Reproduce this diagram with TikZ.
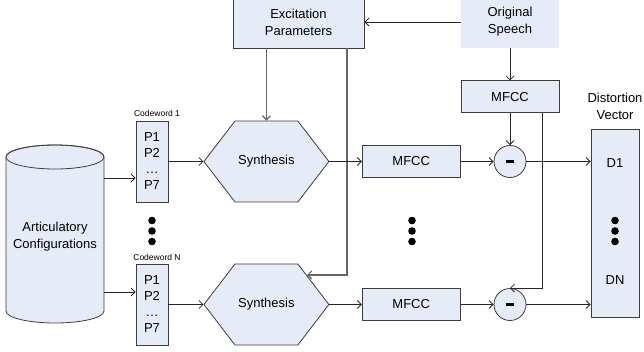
\documentclass[tikz,border=0pt]{standalone}
\usepackage{fontspec}
\setmainfont{Liberation Sans}
\usetikzlibrary{arrows.meta,positioning,shapes.symbols}

\definecolor{boxfill}{RGB}{230,236,247}
\definecolor{edgegray}{RGB}{60,60,60}

\begin{document}
\begin{tikzpicture}[x=1pt, y=-1pt, line width=0.8pt,
	font=\fontsize{13}{17}\selectfont,
	box/.style={rectangle,draw=edgegray,fill=boxfill,inner sep=0pt,align=center},
	mfcc/.style={box,minimum width=98pt,minimum height=32pt},
	code/.style={box,minimum width=32pt,minimum height=81pt,font=\fontsize{13}{16}\selectfont},
	synth/.style={signal,signal to=east and west,signal pointer angle=105,draw=edgegray,fill=boxfill,minimum width=125pt,minimum height=81pt,inner sep=0pt},
	diff/.style={circle,draw=edgegray,fill=boxfill,minimum size=32pt,inner sep=0pt},
	small/.style={font=\fontsize{8.5}{10}\selectfont},
	arr/.style={-{Straight Barb[length=4pt,width=8pt]},draw=black!85},
	feed/.style={arr,draw=black!60,line width=1.2pt}]
	
	\useasboundingbox (0,0) rectangle (644,351);
	
	% top row
	\node[box,minimum width=131pt,minimum height=52pt] (exc) at (298.5,22) {Excitation\\Parameters};
	\node[box,draw=none,minimum width=98pt,minimum height=52pt] (orig) at (510,22) {Original\\Speech};
	\node[mfcc,below=32pt of orig] (mfcc0) {MFCC};
	
	% database
	\filldraw[draw=edgegray,fill=boxfill] (6,157) -- (6,311)
	arc[start angle=180,end angle=360,x radius=49pt,y radius=12pt] -- (104,157)
	arc[start angle=0,end angle=180,x radius=49pt,y radius=12pt] -- cycle;
	\draw[edgegray] (55,157) ellipse[x radius=49pt,y radius=12pt];
	\node[minimum width=98pt,minimum height=166pt,inner sep=0pt,align=center] (db) at (55,237) {Articulatory\\Configurations};
	
	% codeword 1
	\node[code] (cw1) at (152,161.5) {P1\\P2\\\ldots\\P7};
	\node[synth,right=35pt of cw1] (syn1) {Synthesis};
	\node[diff] (dif1) at (mfcc0 |- cw1) {\rule{8pt}{3pt}};
	\node[mfcc,left=33pt of dif1] (mfcc1) {MFCC};
	\node[small] (lab1) at (157,113) {Codeword 1};
	
	% codeword N
	\node[code] (cwN) at (152,304.5) {P1\\P2\\\ldots\\P7};
	\node[synth,right=35pt of cwN] (syn2) {Synthesis};
	\node[diff] (dif2) at (mfcc0 |- cwN) {\rule{8pt}{3pt}};
	\node[mfcc,left=33pt of dif2] (mfcc2) {MFCC};
	\node[small] (labN) at (157,257) {Codeword N};
	\coordinate (s2in) at (307,275);
	
	% distortion vector
	\node[box,minimum width=48pt,minimum height=188pt] (dv) at (615,223) {};
	\node[align=center] (dvlab) at (615,106) {Distortion\\Vector};
	\node (d1) at (615,163) {D1};
	\node (dn) at (615,280) {DN};
	
	\foreach \x in {152,412,615}
	\foreach \d in {-10.5,0,10.5}
	\fill (\x,231+\d) circle[radius=3.8pt];
	
	\draw[arr] (orig.west) -- (exc.east);
	\draw[feed] (syn1.north |- exc.south) -- (syn1.north);
	\draw[feed] ([xshift=48.5pt]exc.south) |- (s2in);
	\draw[arr] (orig.south) -- (mfcc0.north);
	\draw[arr] (mfcc0.south) -- (dif1.north);
	\draw[arr] ([xshift=32pt]mfcc0.south) |- (dif2.north);
	
	\draw[arr] ([yshift=-16.5pt]cw1.west -| db.east) -- ([yshift=-16.5pt]cw1.west);
	\draw[arr] ([yshift=12.5pt]cwN.west -| db.east) -- ([yshift=12.5pt]cwN.west);
	\draw[arr] (cw1.east) -- (syn1.west);
	\draw[arr] (cwN.east) -- (syn2.west);
	\draw[arr] (syn1.east) -- (mfcc1.west);
	\draw[arr] (syn2.east) -- (mfcc2.west);
	\draw[arr] (mfcc1.east) -- (dif1.west);
	\draw[arr] (mfcc2.east) -- (dif2.west);
	\draw[arr] (dif1.east) -- (dif1.east -| dv.west);
	\draw[arr] (dif2.east) -- (dif2.east -| dv.west);
\end{tikzpicture}
\end{document}
